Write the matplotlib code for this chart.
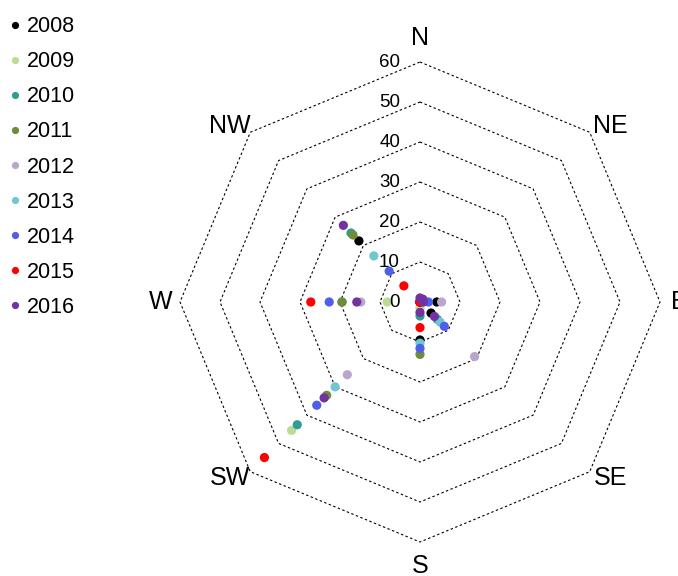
import numpy as np
import matplotlib
matplotlib.use("Agg")
import matplotlib.pyplot as plt
from matplotlib.lines import Line2D

plt.rcParams['font.family'] = ['Liberation Sans Narrow', 'Liberation Sans', 'DejaVu Sans']

# Wind directions, clockwise from north
directions = ["N", "NE", "E", "SE", "S", "SW", "W", "NW"]
years = ["2008", "2009", "2010", "2011", "2012", "2013", "2014", "2015", "2016"]

# Values per year, ordered as in `directions`
v2008 = [0, 0, 4.2, 3.9, 9.5, 0, 0, 21.6]
v2009 = [0, 0, 0, 0, 1.5, 45.4, 8.2, 0]
v2010 = [0, 0, 0, 6.1, 3.5, 43.4, 19.5, 24.4]
v2011 = [0, 0, 0, 0, 13.1, 33.0, 19.5, 23.7]
v2012 = [0, 0, 5.4, 19.3, 0, 25.7, 14.8, 0]
v2013 = [0, 0, 0, 7.1, 10.3, 30.0, 0, 16.3]
v2014 = [0, 0, 2.1, 8.6, 11.6, 36.5, 22.7, 10.9]
v2015 = [0, 0, 0, 0, 6.4, 55.0, 27.3, 5.7]
v2016 = [1.0, 1.0, 0.8, 5.1, 2.6, 33.9, 15.8, 27.1]
series = [v2008, v2009, v2010, v2011, v2012, v2013, v2014, v2015, v2016]

colors = ["#000000", "#BCDB94", "#2E9E90", "#6E8C3A", "#BBA6CB",
          "#70C6D4", "#4F5FEA", "#FF0000", "#7232A2"]

ring_levels = [10, 20, 30, 40, 50, 60]
axis_labels = ["0", "10", "20", "30", "40", "50", "60"]

W, H, DPI = 678, 576, 100
fig = plt.figure(figsize=(W / DPI, H / DPI), dpi=DPI)
ax = fig.add_axes([0, 0, 1, 1])

# centre of the web and pixels per unit
cx, cy, ppu = 420.0, 302.0, 4.0
ax.set_xlim(-cx / ppu, (W - cx) / ppu)
ax.set_ylim(-(H - cy) / ppu, cy / ppu)
ax.set_aspect('equal')
ax.axis('off')

n = len(directions)
theta = np.pi / 2 - 2 * np.pi * np.arange(n) / n
ct, st = np.cos(theta), np.sin(theta)

# octagonal grid rings
for r in ring_levels:
    xs = np.append(r * ct, r * ct[0])
    ys = np.append(r * st, r * st[0])
    ax.plot(xs, ys, color='black', lw=0.8, ls=(0, (2.2, 2.2)), zorder=1)

# ring value labels along the north axis
for i, lab in enumerate(axis_labels):
    ax.text(-5.0, i * 10 - 0.2, lab, ha='right', va='center', fontsize=13.5, zorder=3)

# direction labels
for k, d in enumerate(directions):
    diag = (k % 2 == 1)
    rx = 67.3 if diag else 64.8
    ry = 62.3 if diag else 65.9
    ax.text(rx * ct[k], ry * st[k], d, ha='center', va='center', fontsize=18, zorder=3)

# data points
for vals, col in zip(series, colors):
    v = np.asarray(vals)
    ax.scatter(v * ct, v * st, s=44, color=col, edgecolors='none', zorder=2)

handles = [Line2D([], [], ls='none', marker='o', markersize=5.2, color=c,
                  markeredgewidth=0) for c in colors]
fig.legend(handles, years, loc='upper left', bbox_to_anchor=(0.0, 0.987),
           frameon=False, fontsize=15.5, labelspacing=0.655, handlelength=0.6,
           handletextpad=0.25, borderaxespad=0.2, borderpad=0.2)

fig.savefig("out.png", dpi=DPI)
